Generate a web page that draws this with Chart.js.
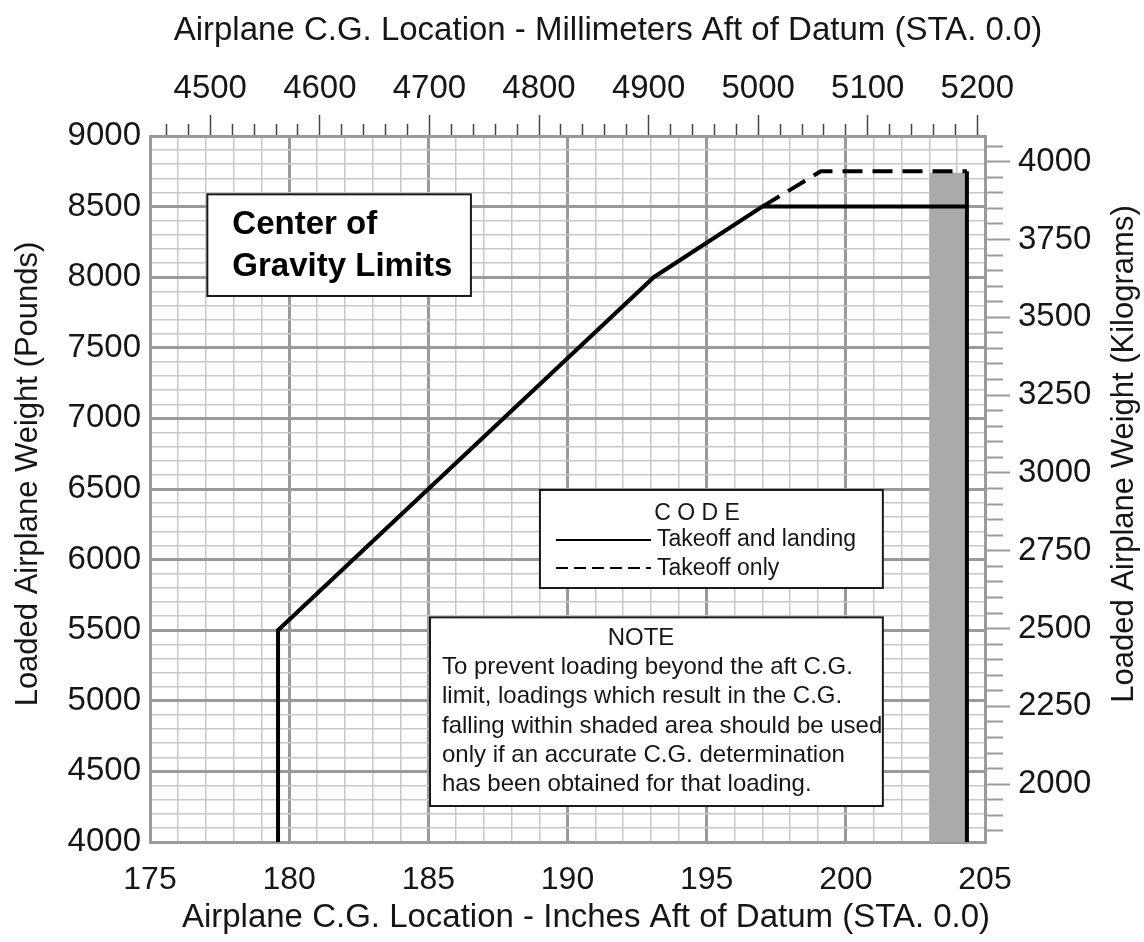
<!DOCTYPE html>
<html>
<head>
<meta charset="utf-8">
<title>Center of Gravity Limits</title>
<script src="https://cdn.jsdelivr.net/npm/chart.js@4.4.1/dist/chart.umd.min.js"></script>
<style>
  html, body { margin: 0; padding: 0; background: #fff; }
  #wrap { width: 1144px; height: 942px; }
</style>
</head>
<body>
<div id="wrap"><canvas id="cgChart" width="1144" height="942"></canvas></div>
<script>
const KG_PER_LB = 0.45359237;
const MM_PER_IN = 25.4;

// axis ranges and labelled ticks
const inchRange = [175, 205];
const poundRange = [4000, 9000];
const inchLabels = [175, 180, 185, 190, 195, 200, 205];
const poundLabels = [4000, 4500, 5000, 5500, 6000, 6500, 7000, 7500, 8000, 8500, 9000];
const mmLabels = [4500, 4600, 4700, 4800, 4900, 5000, 5100, 5200];
const kgLabels = [2000, 2250, 2500, 2750, 3000, 3250, 3500, 3750, 4000];

// envelope: inches aft of datum vs loaded weight (lb)
const takeoffLandingIn = [179.6, 179.6, 193.1, 197.0, 204.35];
const takeoffLandingLb = [4000, 5500, 8000, 8500, 8500];
const takeoffOnlyIn = [197.0, 199.1, 204.35];
const takeoffOnlyLb = [8500, 8750, 8750];
const aftLimitIn = [204.35, 204.35];
const aftLimitLb = [8750, 4000];
const shadedIn = [203.0, 204.35];
const shadedLb = [8740, 8740];

const TEXT = '#161616';
const MAJOR = '#9a9a9a';
const MINOR = '#c8c8c8';
const FONT = "'Liberation Sans', Arial, Helvetica, sans-serif";

Chart.defaults.font.family = FONT;
Chart.defaults.color = TEXT;

const pts = (xs, ys) => xs.map((x, i) => ({ x: x, y: ys[i] }));

function stepTicks(min, max, step) {
    const out = [];
    for (let v = Math.ceil(min / step - 1e-9) * step; v <= max + 1e-9; v += step) {
        out.push({ value: Math.round(v * 1000) / 1000 });
    }
    return out;
}

// inch and pound grid: heavy line on labelled ticks, light line otherwise
function gridFor(labels) {
    return {
        color: c => (c.tick && labels.includes(c.tick.value)) ? MAJOR : MINOR,
        lineWidth: c => (c.tick && labels.includes(c.tick.value)) ? 3 : 1.5,
        drawTicks: false
    };
}

const noteLines = [
    'To prevent loading beyond the aft C.G.',
    'limit, loadings which result in the C.G.',
    'falling within shaded area should be used',
    'only if an accurate C.G. determination',
    'has been obtained for that loading.'
];

// boxes in axis units (inches, pounds)
const titleBox = { x0: 177.06, x1: 186.53, y0: 8587, y1: 7867 };
const codeBox = { x0: 189.01, x1: 201.33, y0: 6493, y1: 5799 };
const noteBox = { x0: 185.06, x1: 201.33, y0: 5591, y1: 4255 };

const annotations = {
    id: 'annotations',
    afterDraw(chart) {
        const { ctx, scales: { x, y } } = chart;
        const rect = b => {
            const r = {
                l: x.getPixelForValue(b.x0), r: x.getPixelForValue(b.x1),
                t: y.getPixelForValue(b.y0), b: y.getPixelForValue(b.y1)
            };
            ctx.fillStyle = '#fff';
            ctx.fillRect(r.l, r.t, r.r - r.l, r.b - r.t);
            ctx.strokeStyle = '#1a1a1a';
            ctx.lineWidth = 2;
            ctx.strokeRect(r.l, r.t, r.r - r.l, r.b - r.t);
            return r;
        };
        ctx.save();
        ctx.textBaseline = 'middle';

        // title
        let r = rect(titleBox);
        ctx.fillStyle = '#000';
        ctx.font = 'bold 33px ' + FONT;
        ctx.textAlign = 'left';
        ctx.fillText('Center of', r.l + 25, r.t + 31);
        ctx.fillText('Gravity Limits', r.l + 25, r.t + 73);

        // line code
        r = rect(codeBox);
        ctx.fillStyle = TEXT;
        ctx.font = '23px ' + FONT;
        ctx.textAlign = 'center';
        ctx.fillText('C O D E', r.l + 157, r.t + 24);
        ctx.textAlign = 'left';
        ctx.fillText('Takeoff and landing', r.l + 117, r.t + 50);
        ctx.fillText('Takeoff only', r.l + 117, r.t + 79);
        ctx.strokeStyle = '#000';
        ctx.lineWidth = 2;
        ctx.beginPath();
        ctx.moveTo(r.l + 16, r.t + 50);
        ctx.lineTo(r.l + 111, r.t + 50);
        ctx.stroke();
        ctx.setLineDash([12, 6]);
        ctx.beginPath();
        ctx.moveTo(r.l + 16, r.t + 78);
        ctx.lineTo(r.l + 111, r.t + 78);
        ctx.stroke();
        ctx.setLineDash([]);

        // note
        r = rect(noteBox);
        ctx.fillStyle = TEXT;
        ctx.font = '24px ' + FONT;
        ctx.textAlign = 'center';
        ctx.fillText('NOTE', r.l + 211, r.t + 21);
        ctx.textAlign = 'left';
        noteLines.forEach((line, i) => ctx.fillText(line, r.l + 12, r.t + 50 + i * 29.3));

        ctx.restore();
    }
};

// axis titles; both side titles read bottom to top
const axisTitles = {
    id: 'axisTitles',
    afterDraw(chart) {
        const ctx = chart.ctx;
        ctx.save();
        ctx.fillStyle = TEXT;
        ctx.textAlign = 'center';
        ctx.textBaseline = 'middle';
        ctx.font = '33px ' + FONT;
        ctx.fillText('Airplane C.G. Location - Millimeters Aft of Datum (STA. 0.0)', 608, 31);
        ctx.fillText('Airplane C.G. Location - Inches Aft of Datum (STA. 0.0)', 586, 918);
        ctx.font = '31px ' + FONT;
        ctx.translate(28, 474);
        ctx.rotate(-Math.PI / 2);
        ctx.fillText('Loaded Airplane Weight (Pounds)', 0, 0);
        ctx.restore();
        ctx.save();
        ctx.fillStyle = TEXT;
        ctx.textAlign = 'center';
        ctx.textBaseline = 'middle';
        ctx.font = '31px ' + FONT;
        ctx.translate(1124, 454);
        ctx.rotate(-Math.PI / 2);
        ctx.fillText('Loaded Airplane Weight (Kilograms)', 0, 0);
        ctx.restore();
    }
};

new Chart(document.getElementById('cgChart'), {
    type: 'line',
    data: {
        datasets: [
            {
                label: 'Takeoff and landing',
                data: pts(takeoffLandingIn, takeoffLandingLb),
                borderColor: '#000', borderWidth: 4, borderJoinStyle: 'miter',
                pointRadius: 0, fill: false, tension: 0
            },
            {
                label: 'Aft limit',
                data: pts(aftLimitIn, aftLimitLb),
                borderColor: '#000', borderWidth: 4,
                pointRadius: 0, fill: false, tension: 0
            },
            {
                label: 'Takeoff only',
                data: pts(takeoffOnlyIn, takeoffOnlyLb),
                borderColor: '#000', borderWidth: 4, borderDash: [20, 10], borderJoinStyle: 'miter',
                pointRadius: 0, fill: false, tension: 0
            },
            {
                label: 'Shaded area',
                data: pts(shadedIn, shadedLb),
                borderWidth: 0, borderColor: 'rgba(0,0,0,0)',
                backgroundColor: '#aaaaaa',
                pointRadius: 0, fill: 'start', tension: 0
            }
        ]
    },
    options: {
        responsive: false,
        animation: false,
        layout: { padding: 0 },
        plugins: { legend: { display: false }, tooltip: { enabled: false } },
        scales: {
            x: {
                type: 'linear', position: 'bottom',
                min: inchRange[0], max: inchRange[1],
                afterBuildTicks: s => { s.ticks = stepTicks(s.min, s.max, 1); },
                afterFit: s => { s.height = 100; },
                grid: gridFor(inchLabels),
                border: { color: MAJOR, width: 3 },
                ticks: {
                    autoSkip: false, maxRotation: 0, padding: 19,
                    font: { size: 32 }, color: TEXT,
                    callback: v => inchLabels.includes(v) ? String(v) : ''
                }
            },
            y: {
                type: 'linear', position: 'left',
                min: poundRange[0], max: poundRange[1],
                afterBuildTicks: s => { s.ticks = stepTicks(s.min, s.max, 100); },
                afterFit: s => { s.width = 150; },
                grid: gridFor(poundLabels),
                border: { color: MAJOR, width: 3 },
                ticks: {
                    autoSkip: false, padding: 9,
                    font: { size: 33 }, color: TEXT,
                    callback: v => poundLabels.includes(v) ? String(v) : ''
                }
            },
            x2: {
                type: 'linear', position: 'top',
                min: inchRange[0] * MM_PER_IN, max: inchRange[1] * MM_PER_IN,
                afterBuildTicks: s => { s.ticks = stepTicks(s.min, s.max, 20); },
                afterFit: s => { s.height = 136; },
                grid: {
                    drawOnChartArea: false, tickLength: 21,
                    tickColor: '#444', tickWidth: 1.5,
                    tickBorderDash: c => (c.tick && mmLabels.includes(c.tick.value)) ? [] : [0, 9, 12, 0]
                },
                border: { color: MAJOR, width: 3 },
                ticks: {
                    autoSkip: false, maxRotation: 0, padding: 6,
                    font: { size: 33 }, color: TEXT,
                    callback: v => mmLabels.includes(v) ? String(v) : ''
                }
            },
            y2: {
                type: 'linear', position: 'right',
                min: poundRange[0] * KG_PER_LB, max: poundRange[1] * KG_PER_LB,
                afterBuildTicks: s => { s.ticks = stepTicks(s.min, s.max, 50); },
                afterFit: s => { s.width = 159; },
                grid: {
                    drawOnChartArea: false, tickLength: 25,
                    tickColor: MAJOR, tickWidth: 2,
                    tickBorderDash: c => (c.tick && kgLabels.includes(c.tick.value)) ? [] : [16, 40]
                },
                border: { color: MAJOR, width: 3 },
                ticks: {
                    autoSkip: false, padding: 8,
                    font: { size: 33 }, color: TEXT,
                    callback: v => kgLabels.includes(v) ? String(v) : ''
                }
            }
        }
    },
    plugins: [annotations, axisTitles]
});
</script>
</body>
</html>
